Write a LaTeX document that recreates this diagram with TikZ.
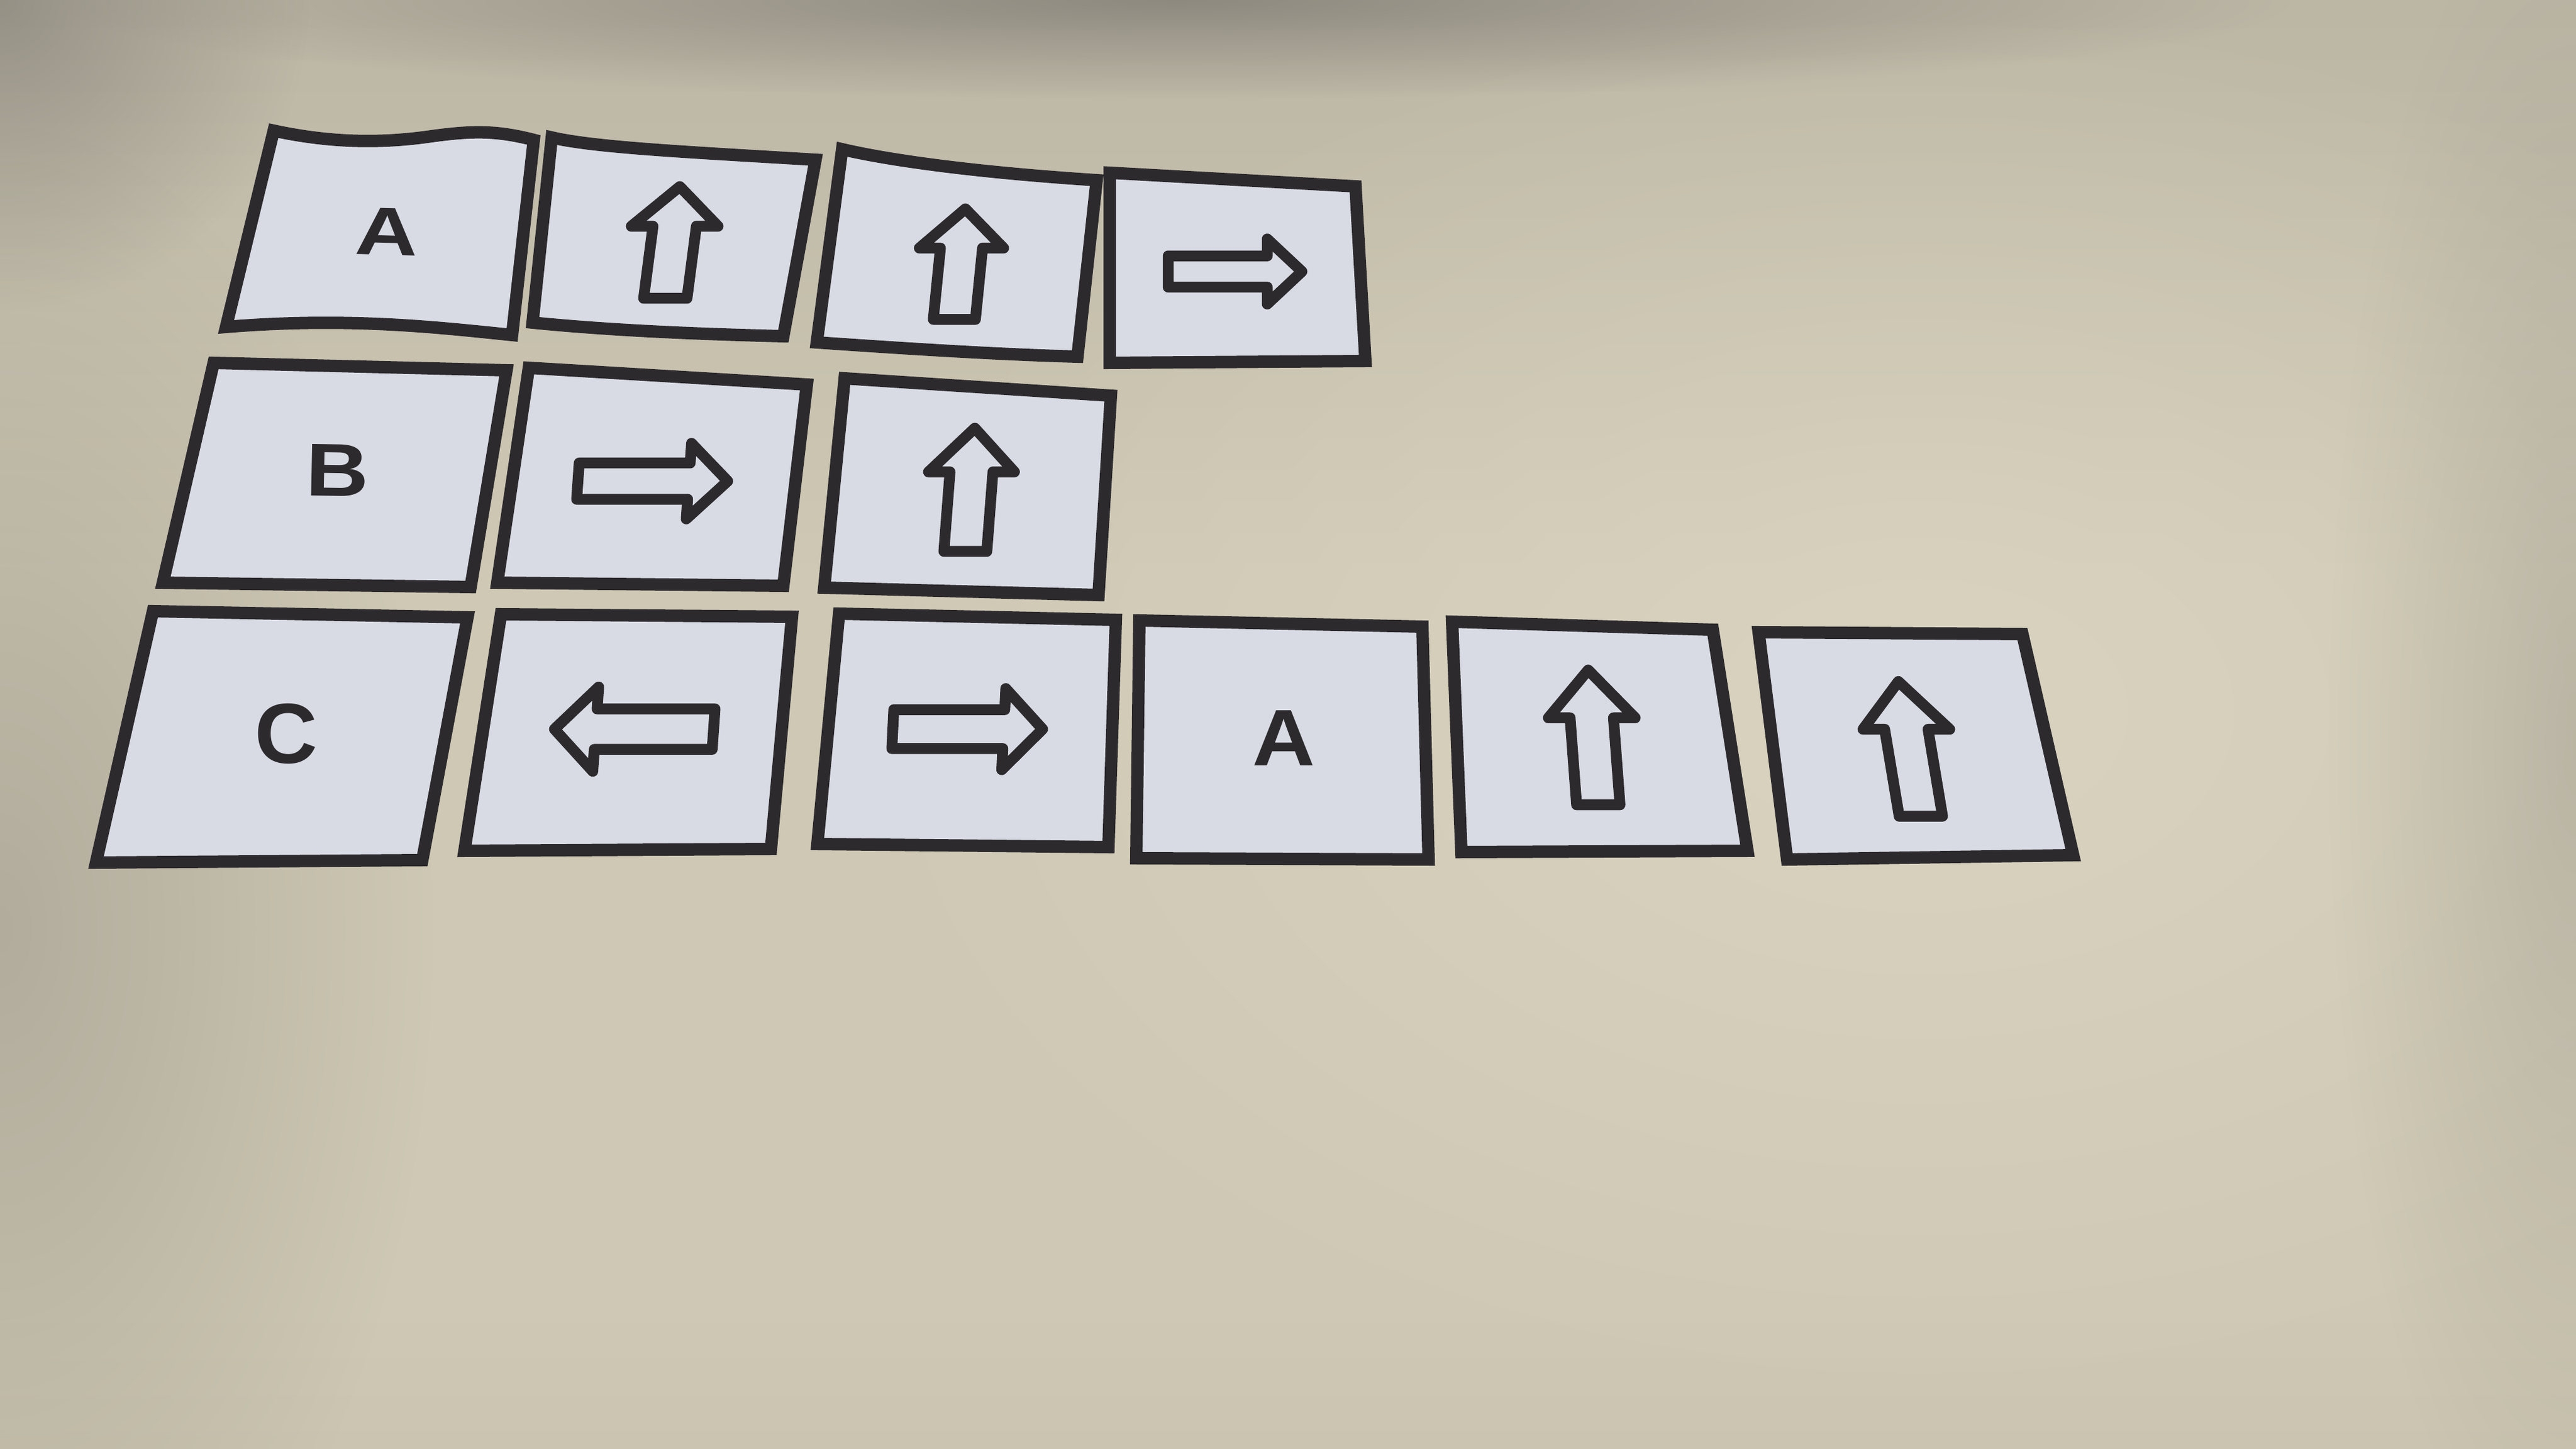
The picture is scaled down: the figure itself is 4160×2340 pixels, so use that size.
\documentclass[tikz,border=0pt]{standalone}
\usepackage{fontspec}
\setmainfont{Liberation Sans}
\usetikzlibrary{fadings}
\tikzfading[name=myfadeout, inner color=transparent!0, outer color=transparent!100]
\definecolor{cardfill}{HTML}{D8DBE4}
\definecolor{cardline}{HTML}{2C2A2D}
\definecolor{wtt}{HTML}{6F6C66}
\definecolor{wt}{HTML}{A09C90}
\definecolor{wu}{HTML}{B7B1A1}
\definecolor{wm}{HTML}{CEC8B4}
\definecolor{wb}{HTML}{B7B09D}
\definecolor{wbright}{HTML}{DBD5C2}
\definecolor{wdark}{HTML}{8E8A7E}
\pgfdeclareverticalshading{wallv}{100bp}{color(0bp)=(wb); color(30bp)=(wm); color(55bp)=(wm); color(80bp)=(wu); color(95bp)=(wt); color(100bp)=(wtt)}
\newcommand\cardq[4]{\draw[card] (#1) -- (#2) -- (#3) -- (#4) -- cycle;}
\newcommand\uparr[5]{%
  \begin{scope}[shift={(#1,#2)}, xslant=#3, xscale=#4, yscale=#5]
    \draw[arr] (-34,92) -- (-34,-28) -- (-68,-28) -- (0,-94) -- (68,-28) -- (34,-28) -- (34,92) -- cycle;
  \end{scope}}
\newcommand\rtarr[5]{%
  \begin{scope}[shift={(#1,#2)}, xslant=#3, xscale=#4, yscale=#5]
    \draw[arr] (-110,-24) -- (50,-24) -- (50,-50) -- (106,0) -- (50,50) -- (50,24) -- (-110,24) -- cycle;
  \end{scope}}
\newcommand\lett[6]{%
  \begin{scope}[shift={(#2,#3)}, yscale=#4, rotate=#5]
    \node[lettstyle] (#1) at (0,0) {#6};
  \end{scope}}
\begin{document}
\begin{tikzpicture}[x=0.1mm,y=-0.1mm,
  card/.style={draw=cardline, fill=cardfill, line width=2.0mm, line join=miter},
  arr/.style={draw=cardline, line width=1.75mm, line join=round},
  lettstyle/.style={text=cardline, inner sep=0pt, font=\fontsize{40}{40}\selectfont\bfseries, transform shape}]
\useasboundingbox (0,0) rectangle (4160,2340);
% wall
\shade[shading=wallv] (0,0) rectangle (4160,2340);
\fill[wbright, path fading=myfadeout, opacity=0.85] (3100,1150) ellipse (1800 and 1150);
\fill[wdark, path fading=myfadeout, opacity=0.45] (0,1500) ellipse (700 and 1300);
\fill[wdark, path fading=myfadeout, opacity=0.35] (4160,1200) ellipse (400 and 1400);
\fill[wtt, path fading=myfadeout, opacity=0.6] (1900,0) ellipse (1800 and 160);
\fill[wtt, path fading=myfadeout, opacity=0.5] (0,0) ellipse (500 and 500);

% ---- row A ----
\draw[card] (442,211) .. controls (530,230) and (610,232) .. (690,221)
  .. controls (760,211) and (800,210) .. (862,226)
  -- (827,541) .. controls (700,528) and (560,512) .. (365,528) -- cycle;
\draw[card] (891,222) .. controls (960,238) and (1100,245) .. (1317,258)
  -- (1265,543) .. controls (1150,540) and (1000,535) .. (860,521) -- cycle;
\draw[card] (1360,241) .. controls (1450,262) and (1600,280) .. (1771,291)
  -- (1740,576) .. controls (1600,572) and (1450,562) .. (1319,553) -- cycle;
\cardq{1792,279}{2189,301}{2205,583}{1792,586}
\lett{la1}{625}{374}{0.78}{-2}{A}
\uparr{1086}{392.5}{0.13}{1.03}{0.97}
\uparr{1550}{427.5}{0.10}{1.0}{0.96}
\rtarr{1996.5}{438.5}{0}{1.0}{1.05}

% ---- row B ----
\cardq{345,586}{818,598}{760,948}{263,941}
\cardq{854,594}{1303,621}{1265,946}{803,941}
\cardq{1364,611}{1794,639}{1774,961}{1331,949}
\lett{lb1}{545}{760}{0.86}{-1}{B}
\rtarr{1056.5}{777}{0.07}{1.12}{1.22}
\uparr{1566.5}{792}{0.077}{1.02}{1.07}

% ---- row C ----
\cardq{247,987}{755,997}{682,1389}{155,1393}
\cardq{809,992}{1279,996}{1245,1371}{750,1374}
\cardq{1355,991}{1802,1001}{1790,1368}{1320,1363}
\cardq{1840,1002}{2297,1012}{2307,1388}{1835,1386}
\cardq{2345,1004}{2766,1017}{2822,1374}{2360,1376}
\cardq{2840,1021}{3266,1024}{3348,1381}{2886,1388}
\lett{lc1}{462}{1185}{0.98}{0}{C}
\rtarr{1021.5}{1177.5}{0.07}{-1.19}{1.36}
\rtarr{1565}{1177.5}{0.05}{1.12}{1.31}
\lett{lc4}{2073}{1192}{0.92}{0}{A}
\uparr{2573}{1192}{-0.075}{1.03}{1.17}
\uparr{3084}{1210.5}{-0.167}{1.03}{1.17}
\end{tikzpicture}
\end{document}
